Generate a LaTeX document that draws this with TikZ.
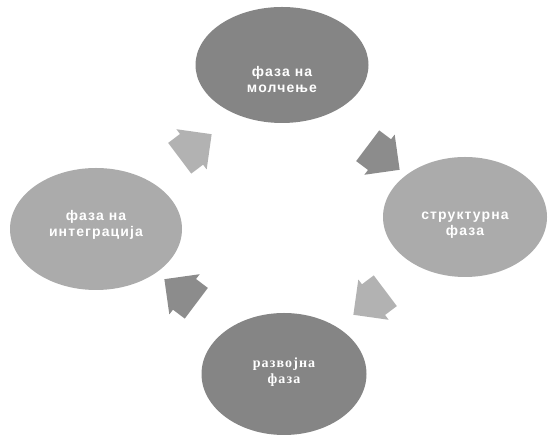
\documentclass[tikz,border=0pt]{standalone}
\usepackage{fontspec}
\setmainfont{Liberation Serif}
\setsansfont{Liberation Sans}
\usetikzlibrary{shapes.geometric,shapes.arrows}

\definecolor{darkph}{gray}{0.52}
\definecolor{lightph}{gray}{0.67}
\definecolor{darkarr}{gray}{0.55}
\definecolor{lightarr}{gray}{0.70}

\begin{document}
\begin{tikzpicture}[x=1pt,y=1pt,
  phase/.style={ellipse,inner sep=0pt,draw=none},
  phtext/.style={text=white,align=center,font=\sffamily\bfseries\fontsize{14}{16}\selectfont\addfontfeature{LetterSpace=8}},
  cycarrow/.style={single arrow,draw=none,inner xsep=0pt,inner ysep=19pt,
    minimum height=40pt,single arrow head extend=6pt,single arrow tip angle=90}]
\useasboundingbox (0,0) rectangle (548,435);

\node[phase,fill=darkph,minimum width=173pt,minimum height=116pt] (molc) at (282,370) {};
\node[phtext] (molct) at ([yshift=-15pt]molc.center) {фаза на\\молчење};

\node[phase,fill=lightph,minimum width=164pt,minimum height=120pt] (struk) at (465,218) {};
\node[phtext] (strukt) at ([yshift=-8pt]struk.center) {структурна\\фаза};

\node[phase,fill=darkph,minimum width=165pt,minimum height=122pt] (razv) at (284,61) {};
\node[phtext,font=\rmfamily\bfseries\fontsize{14}{16}\selectfont\addfontfeature{LetterSpace=8}] (razvt) at ([yshift=2pt]razv.center) {развојна\\фаза};

\node[phase,fill=lightph,minimum width=172pt,minimum height=122pt] (integ) at (96,206) {};
\node[phtext] (integt) at ([yshift=4pt]integ.center) {фаза на\\интеграција};

% arrows round the cycle
\node[cycarrow,fill=darkarr,rotate=-37] (a1) at (376,283) {};
\node[cycarrow,fill=lightarr,rotate=-143] (a2) at (377,138) {};
\node[cycarrow,fill=darkarr,rotate=143] (a3) at (188,138) {};
\node[cycarrow,fill=lightarr,rotate=37] (a4) at (188,283) {};

\end{tikzpicture}
\end{document}
